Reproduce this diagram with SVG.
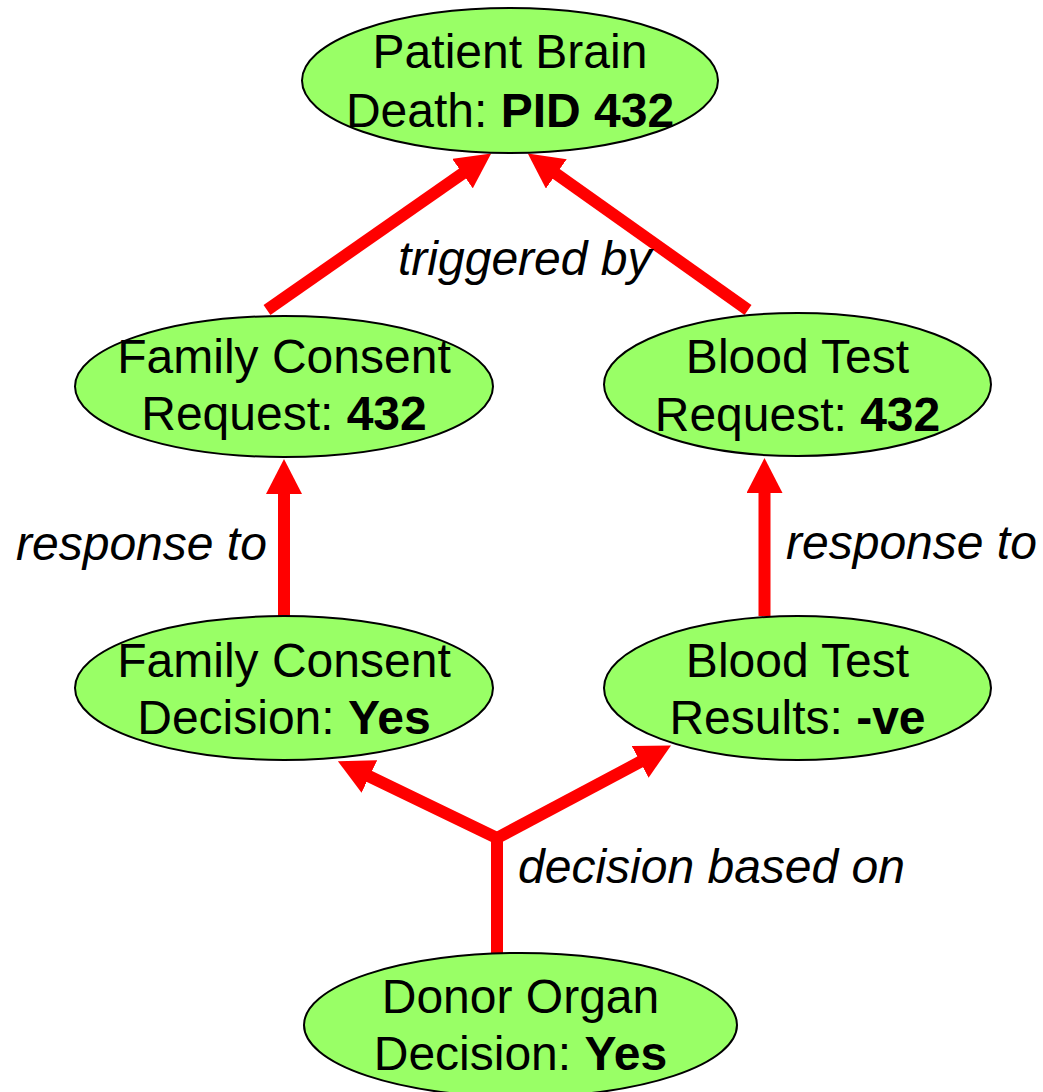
<svg xmlns="http://www.w3.org/2000/svg" width="1043" height="1092" viewBox="0 0 1043 1092">
<style>
.node ellipse{fill:#99FF66;stroke:#000;stroke-width:2}
.node text{font-family:"Liberation Sans",Arial,sans-serif;font-size:48px;fill:#000;text-anchor:middle}
.b{font-weight:bold}
.edge{fill:none;stroke:#FF0000;stroke-width:12;stroke-linejoin:miter;marker-end:url(#ah)}
.lbl{font-family:"Liberation Sans",Arial,sans-serif;font-size:48px;font-style:italic;fill:#000}
</style>
<defs>
<marker id="ah" viewBox="0 0 36 36" markerWidth="36" markerHeight="36" markerUnits="userSpaceOnUse" refX="1" refY="18" orient="auto">
<path d="M0,0 L35,18 L0,36 z" fill="#FF0000"/>
</marker>
</defs>
<g id="connectors">
<path class="edge" d="M267,310 L463.3,173"/>
<path class="edge" d="M748,310 L555.5,173.3"/>
<path class="edge" d="M284,617 L284,493"/>
<path class="edge" d="M764.5,616 L764.5,492"/>
<path class="edge" d="M497,953 L497,838 L368.5,776"/>
<path class="edge" d="M497,838 L641,761.4"/>
</g>
<g id="labels">
<text class="lbl" x="398" y="275">triggered by</text>
<text class="lbl" x="16" y="560">response to</text>
<text class="lbl" x="786" y="559">response to</text>
<text class="lbl" x="518" y="883">decision based on</text>
</g>
<g id="n-brain-death" class="node">
<ellipse cx="510" cy="80.5" rx="208" ry="72.5"/>
<text x="510" y="68">Patient Brain</text>
<text x="510" y="127">Death: <tspan class="b">PID 432</tspan></text>
</g>
<g id="n-family-request" class="node">
<ellipse cx="284" cy="386.5" rx="209" ry="70.5"/>
<text x="284" y="373">Family Consent</text>
<text x="284" y="430">Request: <tspan class="b">432</tspan></text>
</g>
<g id="n-blood-request" class="node">
<ellipse cx="797.5" cy="384.5" rx="193.5" ry="71.5"/>
<text x="797.5" y="373">Blood Test</text>
<text x="797.5" y="431">Request: <tspan class="b">432</tspan></text>
</g>
<g id="n-family-decision" class="node">
<ellipse cx="284" cy="688" rx="209" ry="72"/>
<text x="284" y="677">Family Consent</text>
<text x="284" y="734">Decision: <tspan class="b">Yes</tspan></text>
</g>
<g id="n-blood-results" class="node">
<ellipse cx="797.5" cy="688" rx="193.5" ry="72"/>
<text x="797.5" y="677">Blood Test</text>
<text x="797.5" y="734">Results: <tspan class="b">-ve</tspan></text>
</g>
<g id="n-donor-decision" class="node">
<ellipse cx="520.5" cy="1025" rx="216.5" ry="72"/>
<text x="520.5" y="1013">Donor Organ</text>
<text x="520.5" y="1070">Decision: <tspan class="b">Yes</tspan></text>
</g>
</svg>
